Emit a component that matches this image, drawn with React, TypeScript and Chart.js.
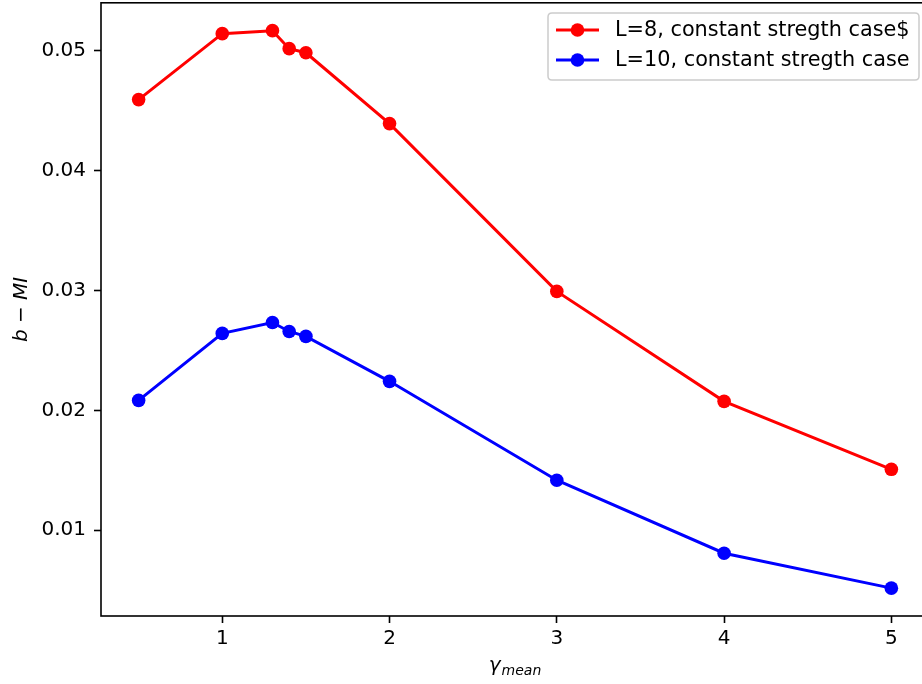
import React, { useEffect, useRef } from "react";
import { Chart, registerables } from "chart.js";

Chart.register(...registerables);

const gammaMean = [0.5, 1, 1.3, 1.4, 1.5, 2, 3, 4, 5];
const miL8 = [0.04592, 0.05142, 0.05167, 0.05017, 0.04983, 0.04392, 0.02992, 0.02075, 0.01508];
const miL10 = [0.02083, 0.02642, 0.02733, 0.02658, 0.02617, 0.02242, 0.01417, 0.00808, 0.00517];
const xTicks = [1, 2, 3, 4, 5];
const yTicks = [0.01, 0.02, 0.03, 0.04, 0.05];
const seriesLabels = ["L=8, constant stregth case$", "L=10, constant stregth case"];
const seriesColors = ["#ff0000", "#0000ff"];

const FONT = "'DejaVu Sans'";
const SHIFT = 4;
const MARKER_R = 6.8;

const framePlugin = {
  id: "frame",
  afterDraw(chart: any) {
    const { ctx, chartArea: a } = chart;
    ctx.save();
    ctx.strokeStyle = "#000";
    ctx.lineWidth = 1.6;
    ctx.strokeRect(a.left, a.top, a.right - a.left, a.bottom - a.top);

    // y title
    ctx.fillStyle = "#000";
    ctx.save();
    ctx.translate(27, (a.top + a.bottom) / 2);
    ctx.rotate(-Math.PI / 2);
    ctx.font = `italic 20px ${FONT}`;
    ctx.textAlign = "center";
    ctx.textBaseline = "alphabetic";
    ctx.fillText("b \u2212 MI", 0, 0);
    ctx.restore();

    // x title
    const cx = (a.left + a.right) / 2;
    ctx.font = `italic 20px ${FONT}`;
    const gw = ctx.measureText("\u03b3").width;
    ctx.font = `italic 14px ${FONT}`;
    const mw = ctx.measureText("mean").width;
    const total = gw + mw + 1;
    const x0 = cx - total / 2;
    ctx.textAlign = "left";
    ctx.textBaseline = "alphabetic";
    ctx.font = `italic 20px ${FONT}`;
    ctx.fillText("\u03b3", x0, 671 + SHIFT);
    ctx.font = `italic 14px ${FONT}`;
    ctx.fillText("mean", x0 + gw + 1, 675 + SHIFT);

    // legend
    const lx = 548, ly = 13 + SHIFT, lw = 371, lh = 67;
    const r = 4;
    ctx.beginPath();
    ctx.moveTo(lx + r, ly);
    ctx.lineTo(lx + lw - r, ly);
    ctx.quadraticCurveTo(lx + lw, ly, lx + lw, ly + r);
    ctx.lineTo(lx + lw, ly + lh - r);
    ctx.quadraticCurveTo(lx + lw, ly + lh, lx + lw - r, ly + lh);
    ctx.lineTo(lx + r, ly + lh);
    ctx.quadraticCurveTo(lx, ly + lh, lx, ly + lh - r);
    ctx.lineTo(lx, ly + r);
    ctx.quadraticCurveTo(lx, ly, lx + r, ly);
    ctx.closePath();
    ctx.fillStyle = "rgba(255,255,255,0.8)";
    ctx.fill();
    ctx.strokeStyle = "#cccccc";
    ctx.lineWidth = 1.5;
    ctx.stroke();
    seriesLabels.forEach((lab, i) => {
      const y = 30 + SHIFT + i * 30;
      ctx.strokeStyle = seriesColors[i];
      ctx.lineWidth = 3;
      ctx.beginPath();
      ctx.moveTo(556, y);
      ctx.lineTo(599, y);
      ctx.stroke();
      ctx.fillStyle = seriesColors[i];
      ctx.beginPath();
      ctx.arc(577.5, y, MARKER_R, 0, Math.PI * 2);
      ctx.fill();
      ctx.fillStyle = "#000";
      ctx.font = `20.8px ${FONT}`;
      ctx.textAlign = "left";
      ctx.textBaseline = "middle";
      ctx.fillText(lab, 615, y + 1);
    });
    ctx.restore();
  },
};

export default function App() {
  const ref = useRef<HTMLCanvasElement>(null);
  useEffect(() => {
    document.body.style.margin = "0";
    const mk = (i: number, data: number[]) => ({
      label: seriesLabels[i],
      data: gammaMean.map((x, k) => ({ x, y: data[k] })),
      borderColor: seriesColors[i],
      backgroundColor: seriesColors[i],
      borderWidth: 3,
      pointRadius: MARKER_R,
      pointBorderWidth: 0,
      pointHoverRadius: MARKER_R,
      showLine: true,
      tension: 0,
    });
    const chart = new Chart(ref.current!, {
      type: "scatter",
      data: { datasets: [mk(0, miL8), mk(1, miL10)] },
      options: {
        animation: false,
        responsive: false,
        devicePixelRatio: 1,
        layout: { padding: { top: 0, right: 11, left: 0, bottom: 0 } },
        plugins: { legend: { display: false }, tooltip: { enabled: false } },
        scales: {
          x: {
            type: "linear",
            min: 0.275,
            max: 5.225,
            afterBuildTicks: (s: any) => {
              s.ticks = xTicks.map((v) => ({ value: v }));
            },
            afterFit: (s: any) => {
              s.height = 68;
              s.paddingLeft = 0;
              s.paddingRight = 0;
            },
            grid: { drawOnChartArea: false, tickLength: 7, color: "#000", tickWidth: 1.6 },
            border: { display: false },
            ticks: { color: "#000", font: { family: "DejaVu Sans", size: 20 }, padding: 4, maxRotation: 0 },
          },
          y: {
            type: "linear",
            min: 0.002845,
            max: 0.053995,
            afterBuildTicks: (s: any) => {
              s.ticks = yTicks.map((v) => ({ value: v }));
            },
            afterFit: (s: any) => {
              s.width = 101;
              s.paddingTop = 0;
              s.paddingBottom = 0;
            },
            grid: { drawOnChartArea: false, tickLength: 7, color: "#000", tickWidth: 1.6 },
            border: { display: false },
            ticks: {
              color: "#000",
              font: { family: "DejaVu Sans", size: 20 },
              padding: 8,
              callback: (v: any) => Number(v).toFixed(2),
            },
          },
        },
      },
      plugins: [framePlugin],
    });
    return () => chart.destroy();
  }, []);
  return (
    <div style={{ width: 922, height: 684, overflow: "hidden", position: "relative", background: "#fff" }}>
      <canvas ref={ref} width={940} height={688} style={{ display: "block", marginTop: -SHIFT }} />
    </div>
  );
}
